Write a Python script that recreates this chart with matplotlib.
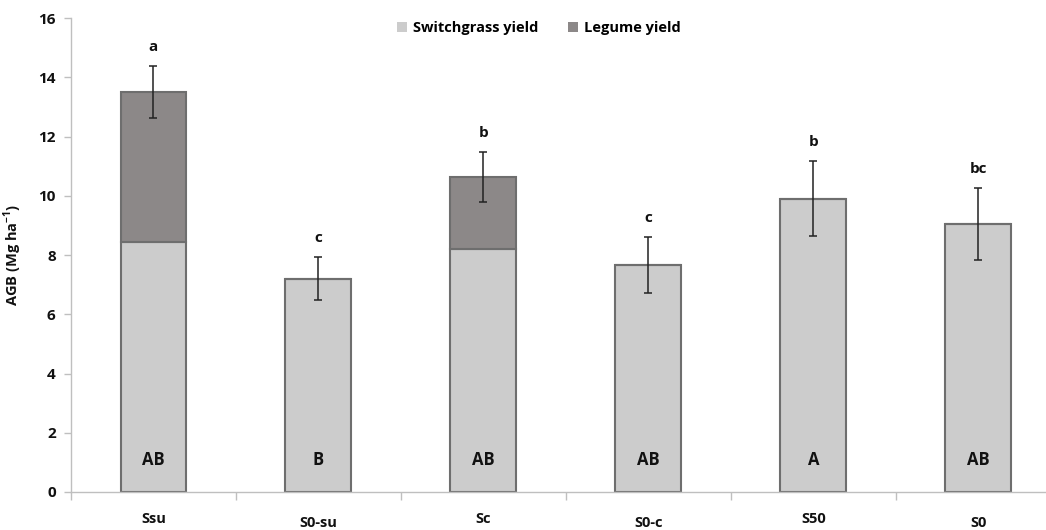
import numpy as np
import matplotlib.pyplot as plt

plt.rcParams['font.family'] = ['Open Sans', 'DejaVu Sans']
plt.rcParams['font.weight'] = 'bold'
plt.rcParams['mathtext.fontset'] = 'custom'
plt.rcParams['mathtext.rm'] = 'Open Sans:bold'
plt.rcParams['mathtext.bf'] = 'Open Sans:bold'

# data
treatments = ['Ssu', 'S0-su', 'Sc', 'S0-c', 'S50', 'S0']
switchgrass = [8.45, 7.2, 8.21, 7.67, 9.9, 9.05]
legume = [5.05, 0.0, 2.43, 0.0, 0.0, 0.0]
err = [0.88, 0.72, 0.85, 0.94, 1.27, 1.23]
sig_letters = ['a', 'c', 'b', 'c', 'b', 'bc']
group_letters = ['AB', 'B', 'AB', 'AB', 'A', 'AB']

x = np.arange(len(treatments))
total = np.array(switchgrass) + np.array(legume)

fig = plt.figure(figsize=(10.46, 5.30), dpi=100)
ax = fig.add_axes([0.0679, 0.0717, 0.932, 0.894])

edge = '#6e6e6e'
ax.bar(x, switchgrass, width=0.4, color='#cccccc', edgecolor=edge, linewidth=1.5,
       label='Switchgrass yield', zorder=2)
ax.bar(x, legume, width=0.4, bottom=switchgrass, color='#8c8888', edgecolor=edge,
       linewidth=1.5, label='Legume yield', zorder=2)
ax.errorbar(x, total, yerr=err, fmt='none', ecolor='#222222', elinewidth=1.1,
            capsize=3, capthick=1.1, zorder=3)

for i in range(len(x)):
    ax.annotate(sig_letters[i], (x[i], total[i] + err[i]), xytext=(0, 12),
                textcoords='offset pixels', ha='center', va='bottom',
                fontsize=11, fontweight='bold', color='#111111')
    ax.text(x[i], 1.08, group_letters[i], ha='center', va='center',
            fontsize=12, fontweight='bold', color='#111111', zorder=4)

ax.set_xlim(-0.5, 5.41)
ax.set_ylim(0, 16)
ax.set_yticks(np.arange(0, 17, 2))
ax.set_xticks(np.arange(-0.5, 5.0, 1.0))
ax.set_xticklabels([])
ax.tick_params(axis='x', length=6, color='#bfbfbf', width=1)
ax.tick_params(axis='y', length=5, color='#bfbfbf', width=1, labelsize=11,
               pad=6, labelcolor='#111111')
for lbl in ax.get_yticklabels():
    lbl.set_fontweight('bold')

# staggered category labels
for i, name in enumerate(treatments):
    dy = -27 if i % 2 == 0 else -31
    ax.annotate(name, (x[i], 0), xytext=(0, dy), textcoords='offset pixels',
                ha='center', va='center', fontsize=10.5, fontweight='bold',
                color='#111111', annotation_clip=False)

for side in ['top', 'right']:
    ax.spines[side].set_visible(False)
ax.spines['left'].set_color('#bfbfbf')
ax.spines['bottom'].set_color('#bfbfbf')
ax.spines['left'].set_linewidth(1)
ax.spines['bottom'].set_linewidth(1)

ax.set_ylabel('AGB (Mg ha$^{-1}$)', fontsize=10.5, fontweight='bold',
              labelpad=10, color='#111111')

leg = ax.legend(loc='center', bbox_to_anchor=(0.48, 0.979), ncol=2, frameon=False,
                handlelength=0.7, handleheight=0.7, handletextpad=0.4,
                columnspacing=2.0, prop={'weight': 'bold', 'size': 10.5})
for h in leg.legend_handles:
    h.set_edgecolor('none')

plt.savefig('out.png', dpi=100)
